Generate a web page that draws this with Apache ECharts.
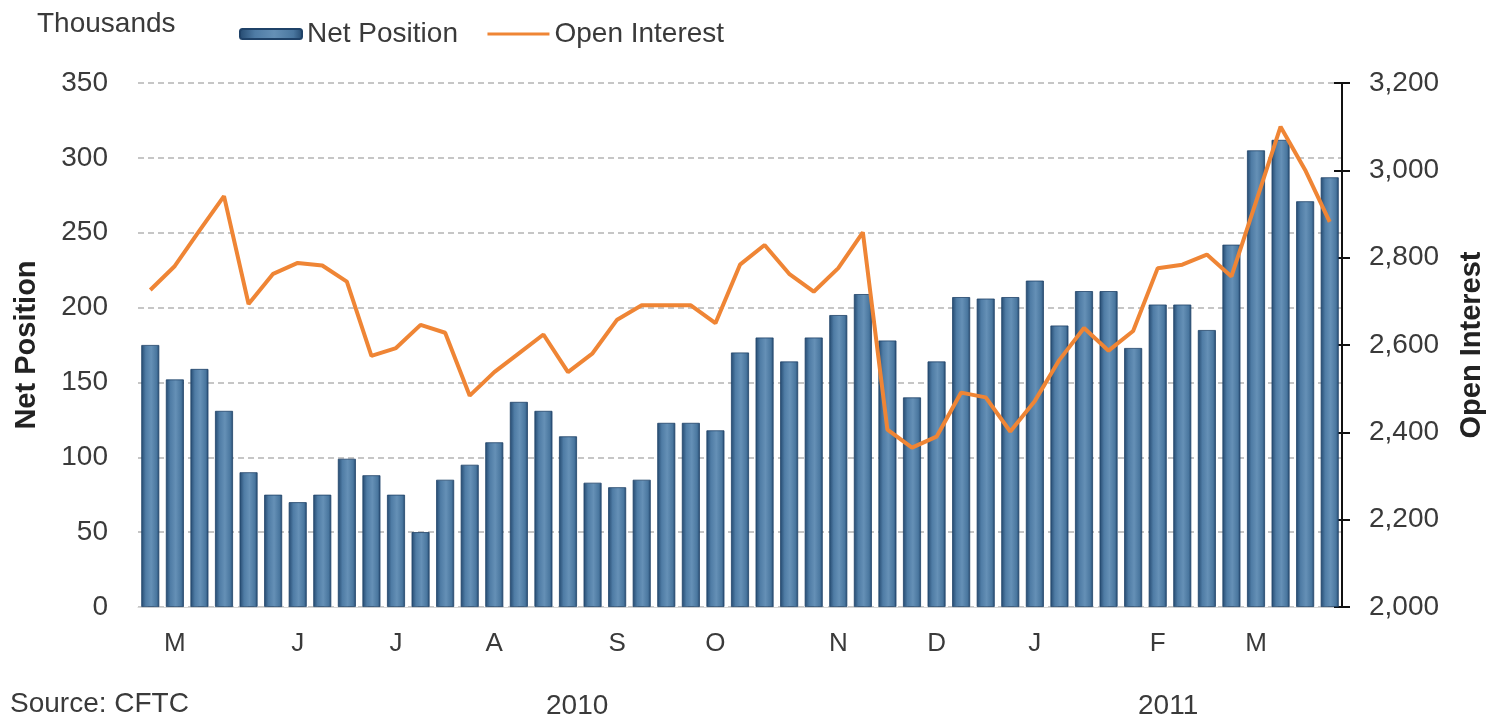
<!DOCTYPE html>
<html>
<head>
<meta charset="utf-8">
<title>Net Position vs Open Interest</title>
<script src="https://cdn.jsdelivr.net/npm/echarts@6/dist/echarts.min.js"></script>
<style>
    html, body { margin: 0; padding: 0; background: #fff; }
    #chart { width: 1489px; height: 724px; }
</style>
</head>
<body>
<div id="chart"></div>
<script>
// weekly data, May 2010 - Mar 2011
const monthLabels = ['', 'M', '', '', '', '', 'J', '', '', '', 'J', '', '', '', 'A', '', '', '', '', 'S', '', '', '', 'O', '', '', '', '', 'N', '', '', '', 'D', '', '', '', 'J', '', '', '', '', 'F', '', '', '', 'M', '', '', '']
const netPosition = [175, 152, 159, 131, 90, 75, 70, 75, 99, 88, 75, 50, 85, 95, 110, 137, 131, 114, 83, 80, 85, 123, 123, 118, 170, 180, 164, 180, 195, 209, 178, 140, 164, 207, 206, 207, 218, 188, 211, 211, 173, 202, 202, 185, 242, 305, 312, 271, 287]
const openInterest = [2726, 2781, 2862, 2941, 2694, 2763, 2788, 2782, 2745, 2575, 2593, 2646, 2628, 2484, 2538, 2581, 2624, 2538, 2581, 2658, 2691, 2691, 2691, 2650, 2784, 2829, 2763, 2722, 2776, 2858, 2406, 2365, 2390, 2491, 2480, 2402, 2472, 2566, 2639, 2587, 2632, 2776, 2784, 2807, 2757, 2928, 3100, 3001, 2882]
const leftTicks = { min: 0, max: 350, interval: 50 }
const rightTicks = { min: 2000, max: 3200, interval: 200 }

const font = "'Liberation Sans', Arial, sans-serif"
const textColor = '#3a3a3a'

const barColor = new echarts.graphic.LinearGradient(0, 0, 1, 0, [
    { offset: 0, color: '#24496f' },
    { offset: 0.25, color: '#4f7ca5' },
    { offset: 0.55, color: '#6590b6' },
    { offset: 0.85, color: '#4a779f' },
    { offset: 1, color: '#24496f' }
])

const chart = echarts.init(document.getElementById('chart'))

chart.setOption({
    animation: false,
    backgroundColor: '#fff',
    textStyle: { fontFamily: font },
    grid: {
        left: 138,
        right: 147,
        top: 83,
        bottom: 117,
        outerBoundsMode: 'none',
        containLabel: false
    },
    legend: {
        left: 234,
        top: 15,
        itemWidth: 62,
        itemHeight: 10,
        itemGap: 28,
        textStyle: { fontSize: 28, color: textColor, fontFamily: font },
        data: [
            'Net Position',
            { name: 'Open Interest', itemStyle: { opacity: 0 }, lineStyle: { width: 3 } }
        ]
    },
    graphic: [
        { type: 'text', left: 37, top: 10, style: { text: 'Thousands', fontSize: 28, fill: textColor, fontFamily: font } },
        { type: 'text', left: 10, top: 690, style: { text: 'Source: CFTC', fontSize: 28, fill: textColor, fontFamily: font } },
        { type: 'text', left: 546, top: 692, style: { text: '2010', fontSize: 28, fill: textColor, fontFamily: font } },
        { type: 'text', left: 1138, top: 692, style: { text: '2011', fontSize: 28, fill: textColor, fontFamily: font } }
    ],
    xAxis: {
        type: 'category',
        data: monthLabels,
        axisLine: { show: true, lineStyle: { color: '#d8d8d8', width: 1 } },
        axisTick: { show: false },
        axisLabel: {
            interval: 0,
            fontSize: 26,
            color: textColor,
            margin: 24
        }
    },
    yAxis: [
        {
            type: 'value',
            position: 'left',
            min: leftTicks.min,
            max: leftTicks.max,
            interval: leftTicks.interval,
            name: 'Net Position',
            nameLocation: 'middle',
            nameGap: 97,
            nameRotate: 90,
            nameTextStyle: { fontSize: 29, fontWeight: 'bold', color: '#222' },
            axisLine: { show: false },
            axisTick: { show: false },
            axisLabel: { fontSize: 28, color: textColor, margin: 30 },
            splitLine: { show: true, lineStyle: { color: '#b4b4b4', type: [6, 4], width: 1.5 } }
        },
        {
            type: 'value',
            position: 'right',
            min: rightTicks.min,
            max: rightTicks.max,
            interval: rightTicks.interval,
            name: 'Open Interest',
            nameLocation: 'middle',
            nameGap: 115,
            nameRotate: 90,
            nameTextStyle: { fontSize: 29, fontWeight: 'bold', color: '#222' },
            axisLine: { show: true, lineStyle: { color: '#111', width: 2 } },
            axisTick: { show: true, length: 8, lineStyle: { color: '#111', width: 2 } },
            axisLabel: {
                fontSize: 28,
                color: textColor,
                margin: 27,
                formatter: v => v.toLocaleString('en-US')
            },
            splitLine: { show: false }
        },
        {
            // inner half of the crossing ticks on the right axis
            type: 'value',
            position: 'right',
            min: rightTicks.min,
            max: rightTicks.max,
            interval: rightTicks.interval,
            axisLine: { show: false },
            axisTick: { show: true, inside: true, length: 8, lineStyle: { color: '#111', width: 2 } },
            axisLabel: { show: false },
            splitLine: { show: false }
        }
    ],
    series: [
        {
            name: 'Net Position',
            type: 'bar',
            yAxisIndex: 0,
            barWidth: 18,
            data: netPosition,
            itemStyle: { color: barColor, borderColor: '#1f4268', borderWidth: 0.8 }
        },
        {
            name: 'Open Interest',
            type: 'line',
            yAxisIndex: 1,
            symbol: 'none',
            data: openInterest,
            lineStyle: { color: '#ef8535', width: 4 },
            itemStyle: { color: '#ef8535' }
        }
    ]
})
</script>
</body>
</html>
